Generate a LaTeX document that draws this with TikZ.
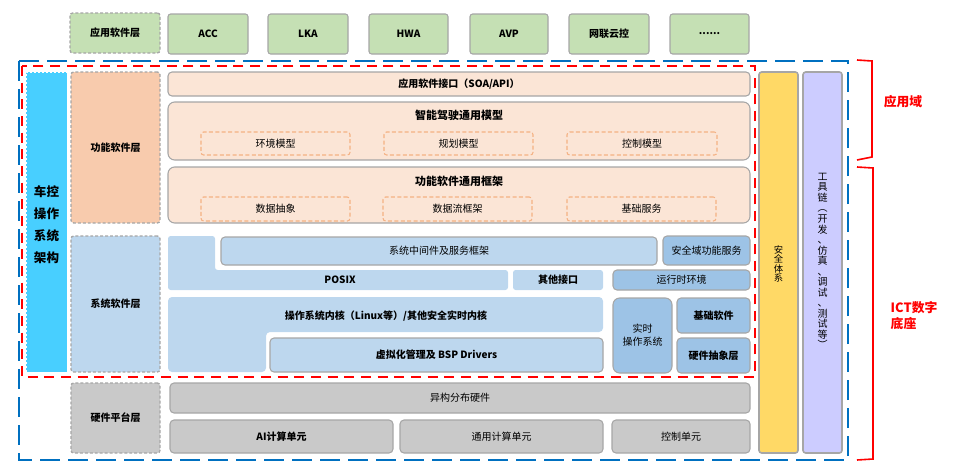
\documentclass[tikz,border=0pt]{standalone}
\usepackage{fontspec}
\setmainfont{Noto Sans CJK SC}
\definecolor{lgray}{HTML}{A6A6A6}
\definecolor{appgreen}{HTML}{C5E0B4}
\definecolor{cyanbox}{HTML}{48CFFF}
\definecolor{funcor}{HTML}{F8CBAD}
\definecolor{peach}{HTML}{FBE5D6}
\definecolor{subor}{HTML}{F4B183}
\definecolor{lblue}{HTML}{BDD7EE}
\definecolor{mblue}{HTML}{9DC3E6}
\definecolor{hwgray}{HTML}{C9C9C9}
\definecolor{safeyel}{HTML}{FFD966}
\definecolor{toollav}{HTML}{CCCCFF}
\definecolor{dblue}{HTML}{0070C0}
\definecolor{dred}{HTML}{FF0000}
\newcommand\mkbox[7]{\node[#1, inner sep=0pt, outer sep=0pt, minimum width={(#5-#3)*0.75pt}, minimum height={(#6-#4)*0.75pt}] (#2) at ({(#3+#5)/2},{(#4+#6)/2}) {#7};}
\begin{document}
\begin{tikzpicture}[x=0.75pt,y=-0.75pt, font=\fontsize{7.5}{9}\selectfont,
  lay/.style={draw=lgray, dash pattern=on 2.2pt off 1.5pt, line width=1pt, rounded corners=2pt},
  bx/.style={draw=lgray, line width=0.8pt, rounded corners=3pt},
  subbox/.style={draw=subor, dash pattern=on 3pt off 1.8pt, line width=0.8pt, rounded corners=2pt},
  bt/.style={font=\fontsize{7.5}{9}\selectfont\bfseries},
  ttl/.style={font=\fontsize{8.25}{10}\selectfont\bfseries}]
\useasboundingbox (0,0) rectangle (956,468);
% top row
\mkbox{lay,fill=appgreen}{applayer}{70}{13}{160}{53}{\bfseries 应用软件层}
\mkbox{bx,fill=appgreen,rounded corners=2pt}{acc}{168}{14}{248}{54}{\bfseries ACC}
\mkbox{bx,fill=appgreen,rounded corners=2pt}{lka}{268}{14}{348}{54}{\bfseries LKA}
\mkbox{bx,fill=appgreen,rounded corners=2pt}{hwa}{369}{14}{448}{54}{\bfseries HWA}
\mkbox{bx,fill=appgreen,rounded corners=2pt}{avp}{470}{14}{548}{54}{\bfseries AVP}
\mkbox{bx,fill=appgreen,rounded corners=2pt}{cloud}{569}{14}{649}{54}{\bfseries 网联云控}
\mkbox{bx,fill=appgreen,rounded corners=2pt}{more}{670}{14}{749}{54}{\bfseries ......}
% left column
\mkbox{fill=cyanbox,draw=white,dash pattern=on 1.5pt off 1.5pt,line width=0.6pt}{vcos}{26}{72}{67}{372}{}
\node[font=\fontsize{9.4}{16.5}\selectfont\bfseries, align=center] (vcostext) at (46.5,225) {车控\\操作\\系统\\架构};
\mkbox{lay,fill=funcor}{funclayer}{71}{72}{160}{223}{\bfseries 功能软件层}
\mkbox{lay,fill=lblue}{syslayer}{71}{236}{160}{372}{\bfseries 系统软件层}
\mkbox{lay,fill=hwgray}{hwlayer}{71}{383}{160}{453}{\bfseries 硬件平台层}
% functional software
\mkbox{bx,fill=peach}{api}{168}{72}{750}{96}{\bfseries 应用软件接口（SOA/API）}
\mkbox{bx,fill=peach,rounded corners=5pt}{model}{168}{102}{750}{160}{}
\node[ttl] (modelt) at (459,115) {智能驾驶通用模型};
\mkbox{subbox}{env}{201}{132}{350}{155}{环境模型}
\mkbox{subbox}{plan}{384}{132}{533}{155}{规划模型}
\mkbox{subbox}{ctrl}{567}{132}{717}{155}{控制模型}
\mkbox{bx,fill=peach,rounded corners=5pt}{frame}{168}{167}{750}{223}{}
\node[ttl] (framet) at (459,181) {功能软件通用框架};
\mkbox{subbox}{dabs}{201}{197}{350}{221}{数据抽象}
\mkbox{subbox}{dflow}{383}{197}{532}{221}{数据流框架}
\mkbox{subbox}{basesvc}{567}{197}{716}{221}{基础服务}
% system software
\path[fill=lblue, rounded corners=2pt] (168,236) -- (215,236) -- (215,270) -- (508,270) -- (508,290) -- (168,290) -- cycle;
\node[bt] (posix) at (340,280) {POSIX};
\mkbox{fill=lblue,rounded corners=2pt}{otherif}{513}{270}{603}{290}{\bfseries 其他接口}
\mkbox{bx,fill=mblue}{runtime}{613}{270}{750}{290}{运行时环境}
\mkbox{bx,fill=lblue}{middle}{221}{237}{657}{265}{系统中间件及服务框架}
\mkbox{bx,fill=mblue}{safesvc}{663}{236}{750}{265}{安全域功能服务}
\path[fill=lblue, rounded corners=3pt] (168,297) -- (603,297) -- (603,332) -- (266,332) -- (266,372) -- (168,372) -- cycle;
\node[bt] (kernel) at (386,316) {操作系统内核（Linux等）/其他安全实时内核};
\mkbox{bx,fill=lblue}{virt}{270}{338}{603}{372}{\bfseries 虚拟化管理及 BSP Drivers}
\mkbox{bx,fill=mblue,rounded corners=5pt}{rtos}{613}{298}{672}{373}{}
\node[align=center, font=\fontsize{7.5}{9.5}\selectfont] (rtost) at (642.5,335) {实时\\操作系统};
\mkbox{bx,fill=mblue}{basesw}{677}{298}{750}{333}{\bfseries 基础软件}
\mkbox{bx,fill=mblue}{hal}{677}{338}{750}{373}{\bfseries 硬件抽象层}
% hardware
\mkbox{bx,fill=hwgray}{hetero}{170}{383}{750}{413}{异构分布硬件}
\mkbox{bx,fill=hwgray}{aiunit}{170}{420}{393}{453}{\bfseries AI计算单元}
\mkbox{bx,fill=hwgray}{gpunit}{400}{420}{603}{453}{通用计算单元}
\mkbox{bx,fill=hwgray}{ctlunit}{612}{420}{750}{453}{控制单元}
% safety & tools
\mkbox{draw=lgray,line width=1.2pt,fill=safeyel,rounded corners=2pt}{safety}{759}{72}{798}{453}{}
\node[align=center, font=\fontsize{7}{7}\selectfont] (safetyt) at (778.5,264) {安\\全\\体\\系};
\mkbox{draw=lgray,line width=1.2pt,fill=toollav,rounded corners=2pt}{tools}{803}{72}{842}{453}{}
\node[align=center, font=\fontsize{7.5}{7.9}\selectfont] (toolst) at (822.5,261) {工\\具\\链\\︵\\开\\发\\、\\仿\\真\\、\\调\\试\\、\\测\\试\\等\\︶};
% dashed frames
\draw[dblue, line width=2.2pt, dash pattern=on 15pt off 6pt] (19,61) rectangle (848,460);
\draw[dred, line width=2.2pt, dash pattern=on 7.5pt off 5pt] (22,66) rectangle (755,377);
% brackets
\draw[dred, line width=1.2pt] (857,60) -- (872,61) -- (872,157) -- (857,160);
\draw[dred, line width=1.2pt] (857,167) -- (873,168) -- (873,459) -- (857,460);
\node[text=dred, font=\fontsize{9.6}{12}\selectfont\bfseries] (appdom) at (903,102) {应用域};
\node[text=dred, font=\fontsize{9.6}{12}\selectfont\bfseries, align=left, anchor=west] (ict) at (886,316) {ICT数字\\底座};
\end{tikzpicture}
\end{document}
